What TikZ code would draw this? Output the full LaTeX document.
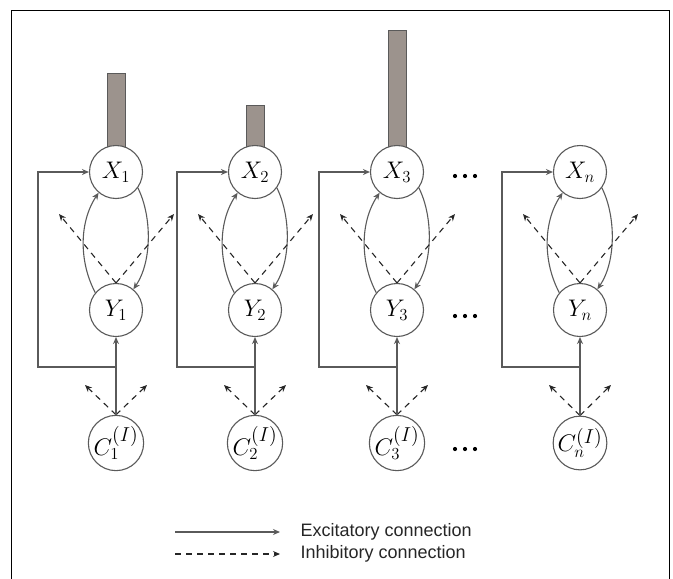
\RequirePackage{fix-cm}
\documentclass[tikz,border=0pt]{standalone}
\usepackage{fontspec}
\setsansfont{Liberation Sans}
\usetikzlibrary{arrows.meta}
\definecolor{ln}{HTML}{5A5A5A}
\definecolor{barfill}{HTML}{9C938D}
\begin{document}
\begin{tikzpicture}[x=1pt,y=-1pt,
  neuron/.style={circle, draw=ln, fill=white, line width=1.1pt, minimum size=53pt, inner sep=0pt, font=\fontsize{24}{28}\selectfont},
  cneuron/.style={neuron, font=\fontsize{24}{28}\selectfont},
  exc/.style={draw=ln, line width=1.1pt, -{Stealth[length=7pt,width=6pt]}},
  inh/.style={draw=black!85, line width=1.1pt, dash pattern=on 6pt off 5pt, -{Stealth[length=7pt,width=6pt]}},
  barbox/.style={draw=ln, fill=barfill, line width=1pt},
  legtext/.style={font=\sffamily\fontsize{18}{20}\selectfont, anchor=west, text=black!85},
  dotmark/.style={fill=black, circle, inner sep=0pt, minimum size=4.2pt}]
\useasboundingbox (0,0) rectangle (673,579);
\draw[line width=1pt] (11,579) -- (11,10) -- (669,10) -- (669,579);
% activity bars
\foreach \cx/\bt in {116/73, 255/105, 397/30}{
  \draw[barbox] (\cx-9,\bt) rectangle (\cx+9,150);
}
\foreach \cx/\i in {116/1, 255/2, 397/3, 580/n}{
  \node[neuron] (X\i) at (\cx,172) {$X_{\i}$};
  \node[neuron] (Y\i) at (\cx,310) {$Y_{\i}$};
  \node[cneuron] (C\i) at (\cx,443) {$C_{\i}^{\scalebox{1.2}{$\scriptstyle(I)$}}$};
  \coordinate (YL\i) at (\cx-57,214);
  \coordinate (YR\i) at (\cx+58,214);
  \coordinate (CL\i) at (\cx-31,385);
  \coordinate (CR\i) at (\cx+31,385);
  \coordinate (J\i) at (\cx,367);
  \coordinate (K\i) at (\cx-78,367);
  % excitatory X <-> Y
  \draw[exc] (X\i.-36) .. controls +(14,28) and +(19,-28) .. (Y\i.50);
  \draw[exc] (Y\i.140) .. controls +(-16,-30) and +(-20,30) .. (X\i.-130);
  % inhibitory from Y
  \draw[inh] (Y\i.north) -- (YL\i);
  \draw[inh] (Y\i.north) -- (YR\i);
  % inhibitory from C
  \draw[inh] (C\i.north) -- (CL\i);
  \draw[inh] (C\i.north) -- (CR\i);
  % C -> Y and feedback loop to X
  \draw[exc] (C\i.north) -- (Y\i.south);
  \draw[exc] (J\i) -- (K\i) |- (X\i.west);
}
% ellipses
\foreach \yy/\r in {176/a, 316/b, 449/c}{
  \node[dotmark] (d1\r) at (455,\yy) {};
  \node[dotmark] (d2\r) at (465,\yy) {};
  \node[dotmark] (d3\r) at (475,\yy) {};
}
% legend
\coordinate (LA1) at (175,532);
\coordinate (LA2) at (280,532);
\coordinate (LB1) at (175,554);
\coordinate (LB2) at (280,554);
\draw[exc] (LA1) -- (LA2);
\draw[inh] (LB1) -- (LB2);
\node[legtext] (LT1) at (297,532) {Excitatory connection};
\node[legtext] (LT2) at (297,554) {Inhibitory connection};
\end{tikzpicture}
\end{document}
